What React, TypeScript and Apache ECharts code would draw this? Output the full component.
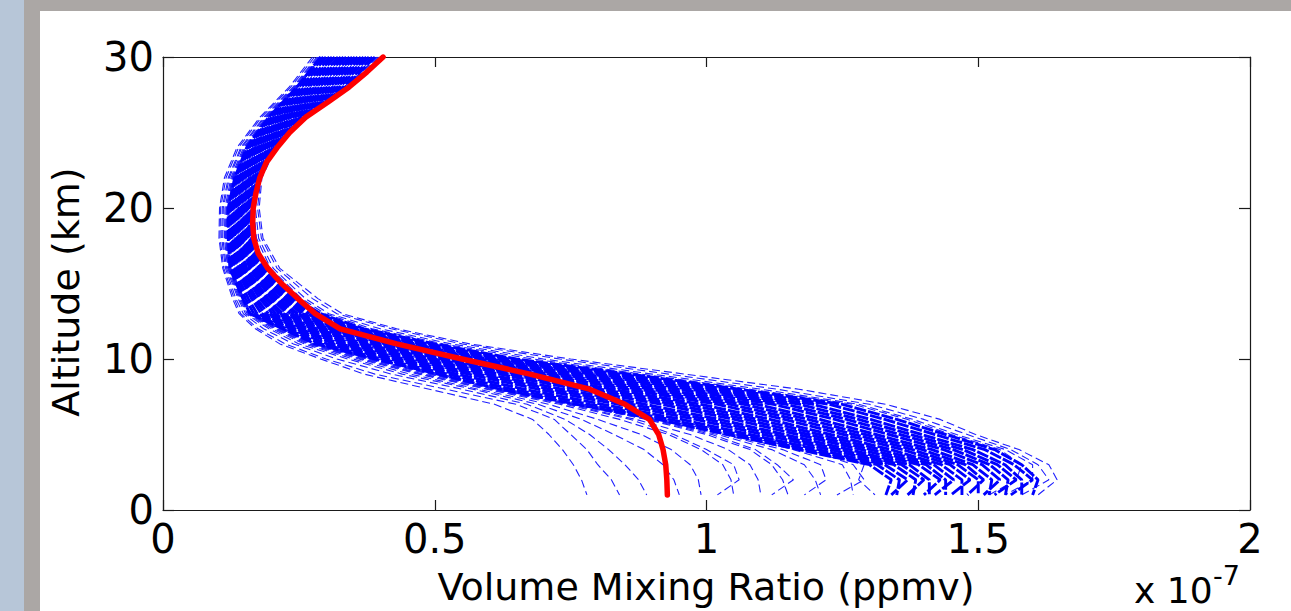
import React, { useEffect, useRef } from "react";
import * as echarts from "echarts";

// Altitude levels (km) shared by the blue profiles
const ALT = [1, 2, 3, 4, 5, 6, 7, 8, 9, 10, 11, 12, 13, 14, 16, 18, 20, 22, 24, 26, 28, 30];

// Dense core of blue profiles: one row per altitude level, one column per profile (x 1e-7 ppmv)
const CORE_ROWS = [
  [1.33, 1.35, 1.34, 1.38, 1.37, 1.41, 1.40, 1.44, 1.42, 1.47, 1.45, 1.50, 1.48, 1.52, 1.51, 1.55, 1.53, 1.58, 1.56, 1.60],
  [1.34, 1.355, 1.37, 1.385, 1.40, 1.41, 1.43, 1.44, 1.455, 1.47, 1.485, 1.50, 1.51, 1.525, 1.54, 1.555, 1.57, 1.58, 1.60, 1.61],
  [1.30, 1.314, 1.328, 1.345, 1.359, 1.373, 1.39, 1.404, 1.418, 1.432, 1.448, 1.462, 1.476, 1.49, 1.507, 1.521, 1.535, 1.549, 1.566, 1.58],
  [1.17, 1.188, 1.206, 1.228, 1.246, 1.264, 1.285, 1.303, 1.321, 1.339, 1.361, 1.379, 1.397, 1.415, 1.436, 1.454, 1.472, 1.49, 1.512, 1.53],
  [1.04, 1.06, 1.08, 1.104, 1.124, 1.144, 1.168, 1.188, 1.208, 1.228, 1.252, 1.272, 1.292, 1.312, 1.336, 1.356, 1.376, 1.396, 1.42, 1.44],
  [0.91, 0.932, 0.954, 0.98, 1.002, 1.024, 1.051, 1.073, 1.095, 1.117, 1.143, 1.165, 1.187, 1.209, 1.236, 1.258, 1.28, 1.302, 1.328, 1.35],
  [0.76, 0.785, 0.809, 0.838, 0.863, 0.887, 0.917, 0.941, 0.966, 0.99, 1.02, 1.044, 1.069, 1.093, 1.123, 1.147, 1.172, 1.196, 1.226, 1.25],
  [0.62, 0.642, 0.664, 0.69, 0.712, 0.734, 0.761, 0.783, 0.805, 0.827, 0.853, 0.875, 0.897, 0.919, 0.946, 0.968, 0.99, 1.012, 1.038, 1.06],
  [0.505, 0.523, 0.541, 0.562, 0.58, 0.597, 0.619, 0.636, 0.654, 0.672, 0.693, 0.711, 0.729, 0.746, 0.768, 0.785, 0.803, 0.821, 0.842, 0.86],
  [0.39, 0.403, 0.416, 0.432, 0.445, 0.458, 0.473, 0.486, 0.499, 0.512, 0.528, 0.541, 0.554, 0.567, 0.582, 0.595, 0.608, 0.621, 0.637, 0.65],
  [0.28, 0.291, 0.302, 0.315, 0.326, 0.337, 0.35, 0.361, 0.372, 0.383, 0.397, 0.408, 0.419, 0.43, 0.443, 0.454, 0.465, 0.476, 0.489, 0.50],
  [0.22, 0.228, 0.235, 0.244, 0.252, 0.259, 0.268, 0.276, 0.283, 0.291, 0.30, 0.307, 0.315, 0.322, 0.331, 0.339, 0.346, 0.354, 0.363, 0.37],
  [0.16, 0.167, 0.173, 0.181, 0.187, 0.194, 0.202, 0.208, 0.215, 0.221, 0.229, 0.235, 0.242, 0.248, 0.256, 0.263, 0.269, 0.276, 0.284, 0.29],
  [0.147, 0.152, 0.157, 0.163, 0.168, 0.172, 0.178, 0.183, 0.188, 0.193, 0.199, 0.204, 0.209, 0.214, 0.22, 0.224, 0.229, 0.234, 0.24, 0.245],
  [0.123, 0.126, 0.13, 0.134, 0.137, 0.14, 0.144, 0.148, 0.151, 0.154, 0.159, 0.162, 0.165, 0.169, 0.173, 0.176, 0.179, 0.183, 0.187, 0.19],
  [0.12, 0.122, 0.125, 0.127, 0.129, 0.132, 0.134, 0.137, 0.139, 0.141, 0.144, 0.146, 0.148, 0.151, 0.153, 0.156, 0.158, 0.16, 0.163, 0.165],
  [0.12, 0.122, 0.124, 0.127, 0.129, 0.131, 0.134, 0.136, 0.138, 0.14, 0.143, 0.145, 0.147, 0.149, 0.152, 0.154, 0.156, 0.158, 0.161, 0.163],
  [0.132, 0.134, 0.136, 0.139, 0.141, 0.143, 0.146, 0.148, 0.15, 0.152, 0.155, 0.157, 0.159, 0.161, 0.164, 0.166, 0.168, 0.17, 0.173, 0.175],
  [0.154, 0.157, 0.159, 0.162, 0.165, 0.167, 0.17, 0.173, 0.175, 0.178, 0.181, 0.184, 0.186, 0.189, 0.192, 0.194, 0.197, 0.199, 0.202, 0.205],
  [0.194, 0.197, 0.2, 0.204, 0.207, 0.21, 0.214, 0.217, 0.22, 0.223, 0.226, 0.229, 0.232, 0.235, 0.239, 0.242, 0.245, 0.248, 0.252, 0.255],
  [0.246, 0.25, 0.255, 0.26, 0.265, 0.269, 0.274, 0.279, 0.283, 0.288, 0.293, 0.298, 0.302, 0.307, 0.312, 0.316, 0.321, 0.325, 0.331, 0.335],
  [0.29, 0.295, 0.30, 0.306, 0.311, 0.316, 0.322, 0.327, 0.332, 0.337, 0.343, 0.348, 0.353, 0.358, 0.364, 0.369, 0.374, 0.379, 0.385, 0.39],
];

// Outlying profiles that leave the band towards lower values near the ground
const FRINGE_LOW = [
  [0.78, 0.77, 0.755, 0.735, 0.71, 0.68, 0.61, 0.49, 0.37, 0.29, 0.215, 0.17, 0.14, 0.128, 0.11, 0.103, 0.104, 0.113, 0.136, 0.178, 0.232, 0.275],
  [0.84, 0.825, 0.80, 0.78, 0.75, 0.72, 0.65, 0.52, 0.39, 0.30, 0.225, 0.175, 0.143, 0.131, 0.112, 0.105, 0.106, 0.116, 0.139, 0.181, 0.235, 0.279],
  [0.89, 0.875, 0.85, 0.82, 0.785, 0.74, 0.67, 0.55, 0.42, 0.32, 0.24, 0.185, 0.148, 0.134, 0.115, 0.108, 0.109, 0.12, 0.143, 0.185, 0.239, 0.283],
  [0.95, 0.94, 0.92, 0.885, 0.83, 0.77, 0.69, 0.57, 0.44, 0.34, 0.25, 0.195, 0.152, 0.138, 0.117, 0.11, 0.111, 0.122, 0.145, 0.187, 0.241, 0.285],
  [0.99, 0.985, 0.97, 0.935, 0.88, 0.80, 0.71, 0.58, 0.455, 0.35, 0.26, 0.20, 0.155, 0.14, 0.119, 0.113, 0.114, 0.125, 0.148, 0.19, 0.243, 0.287],
  [1.05, 1.045, 1.03, 0.99, 0.93, 0.84, 0.73, 0.595, 0.47, 0.36, 0.265, 0.205, 0.157, 0.142, 0.12, 0.115, 0.116, 0.127, 0.15, 0.19, 0.244, 0.288],
  [1.10, 1.095, 1.08, 1.04, 0.97, 0.87, 0.745, 0.605, 0.48, 0.37, 0.27, 0.21, 0.158, 0.144, 0.121, 0.116, 0.117, 0.128, 0.151, 0.191, 0.245, 0.289],
  [1.15, 1.14, 1.12, 1.08, 1.00, 0.89, 0.75, 0.61, 0.49, 0.375, 0.273, 0.213, 0.159, 0.145, 0.122, 0.117, 0.118, 0.129, 0.152, 0.192, 0.245, 0.289],
  [1.21, 1.20, 1.18, 1.12, 1.02, 0.90, 0.755, 0.615, 0.495, 0.38, 0.276, 0.216, 0.16, 0.146, 0.122, 0.118, 0.118, 0.13, 0.152, 0.192, 0.246, 0.29],
  [1.27, 1.265, 1.25, 1.16, 1.035, 0.905, 0.758, 0.618, 0.50, 0.385, 0.278, 0.218, 0.16, 0.147, 0.123, 0.119, 0.119, 0.131, 0.153, 0.193, 0.246, 0.29],
  [1.02, 1.06, 1.05, 1.00, 0.94, 0.86, 0.74, 0.60, 0.475, 0.365, 0.268, 0.208, 0.158, 0.143, 0.121, 0.116, 0.117, 0.128, 0.151, 0.19, 0.244, 0.289],
  [1.12, 1.16, 1.13, 1.09, 1.01, 0.895, 0.752, 0.612, 0.492, 0.378, 0.275, 0.215, 0.16, 0.146, 0.122, 0.118, 0.118, 0.13, 0.152, 0.192, 0.246, 0.29],
  [1.18, 1.22, 1.21, 1.14, 1.03, 0.905, 0.757, 0.617, 0.498, 0.383, 0.277, 0.217, 0.16, 0.147, 0.123, 0.119, 0.119, 0.131, 0.153, 0.193, 0.246, 0.29],
  [1.24, 1.29, 1.27, 1.19, 1.05, 0.915, 0.765, 0.625, 0.505, 0.39, 0.282, 0.22, 0.162, 0.148, 0.124, 0.12, 0.12, 0.132, 0.154, 0.194, 0.247, 0.291],
  [1.31, 1.28, 1.29, 1.22, 1.07, 0.93, 0.775, 0.632, 0.51, 0.395, 0.285, 0.222, 0.163, 0.149, 0.125, 0.121, 0.121, 0.133, 0.155, 0.195, 0.248, 0.292],
];

// Outlying profiles above / to the right of the band
const FRINGE_HIGH = [
  [1.61, 1.645, 1.63, 1.575, 1.495, 1.43, 1.33, 1.17, 0.96, 0.75, 0.565, 0.43, 0.33, 0.285, 0.215, 0.184, 0.177, 0.182, 0.208, 0.258, 0.34, 0.40],
  [1.58, 1.63, 1.61, 1.56, 1.48, 1.40, 1.30, 1.13, 0.93, 0.73, 0.55, 0.42, 0.32, 0.275, 0.21, 0.181, 0.174, 0.18, 0.207, 0.257, 0.338, 0.398],
  [1.55, 1.60, 1.60, 1.55, 1.46, 1.38, 1.28, 1.10, 0.90, 0.70, 0.53, 0.40, 0.305, 0.262, 0.203, 0.176, 0.17, 0.178, 0.206, 0.256, 0.336, 0.395],
  [1.52, 1.57, 1.58, 1.54, 1.45, 1.37, 1.27, 1.08, 0.88, 0.68, 0.515, 0.385, 0.298, 0.255, 0.198, 0.172, 0.167, 0.177, 0.205, 0.256, 0.336, 0.393],
];

// Red reference profile
const RED_ALT = [1, 2, 3, 4, 5, 6, 7, 8, 9, 10, 11, 12, 13, 14, 15, 16, 17, 18, 19, 20, 21, 22, 23, 24, 25, 26, 27, 28, 29, 30];
const RED_VMR = [0.928, 0.927, 0.925, 0.92, 0.912, 0.895, 0.85, 0.785, 0.675, 0.55, 0.43, 0.326, 0.28, 0.248, 0.218, 0.193, 0.175, 0.167, 0.165, 0.166, 0.171, 0.178, 0.19, 0.21, 0.233, 0.262, 0.303, 0.342, 0.375, 0.405];

const X_MIN = 0, X_MAX = 2, X_STEP = 0.5;
const Y_MIN = 0, Y_MAX = 30, Y_STEP = 10;

const X_TITLE = "Volume Mixing Ratio (ppmv)";
const Y_TITLE = "Altitude (km)";

// index of the 13 km level where the dense band changes character
const SPLIT_LEVEL = 12;

export default function App() {
  const ref = useRef<HTMLDivElement>(null);

  useEffect(() => {
    const chart = echarts.init(ref.current as HTMLDivElement, null, { renderer: "svg" });

    const toPath = (vals: number[]) => ALT.map((a, i) => [vals[i], a]).reverse();
    const coreProfiles = CORE_ROWS[0].map((_, j) => CORE_ROWS.map((r) => r[j]));

    const series: any[] = [];
    const base = {
      type: "line",
      showSymbol: false,
      symbol: "none",
      silent: true,
      emphasis: { disabled: true },
      xAxisIndex: 0,
      yAxisIndex: 0,
    };
    FRINGE_LOW.forEach((p) =>
      series.push({ ...base, data: toPath(p), z: 2, lineStyle: { color: "#1f1fff", width: 1.1, type: [8, 4] } })
    );
    FRINGE_HIGH.forEach((p) =>
      series.push({ ...base, data: toPath(p), z: 2, lineStyle: { color: "#1f1fff", width: 1.1, type: [8, 4] } })
    );
    coreProfiles.forEach((p, j) => {
      const path = toPath(p); // from 30 km downwards
      const cut = ALT.length - 1 - SPLIT_LEVEL;
      series.push({
        ...base,
        data: path.slice(0, cut + 1),
        z: 3,
        lineStyle: { color: "#0000ff", width: 2.9, type: [11, 2.5] },
      });
      series.push({
        ...base,
        data: path.slice(cut),
        z: 3,
        lineStyle: { color: "#0000ff", width: 2.9, type: [12, 2], dashOffset: (j * 5.3) % 14 },
      });
    });
    series.push({
      ...base,
      data: RED_ALT.map((a, i) => [RED_VMR[i], a]),
      z: 5,
      lineStyle: { color: "#ff0000", width: 5.5, type: "solid", cap: "round", join: "round" },
    });

    const axisCommon = {
      type: "value",
      splitLine: { show: false },
      axisLine: { show: true, onZero: false, lineStyle: { color: "#1a1a1a", width: 1.2 } },
      axisTick: { show: true, inside: true, length: 10, lineStyle: { color: "#1a1a1a", width: 1.2 } },
    };
    const labelStyle = { fontFamily: "DejaVu Sans", fontSize: 40, color: "#000" };

    chart.setOption({
      animation: false,
      backgroundColor: "#ffffff",
      grid: { left: 163, top: 57, width: 1087, height: 453, containLabel: false },
      xAxis: [
        {
          ...axisCommon,
          position: "bottom",
          min: X_MIN,
          max: X_MAX,
          interval: X_STEP,
          axisLabel: { ...labelStyle, lineHeight: 32, margin: 13, formatter: (v: number) => String(v) },
        },
        {
          ...axisCommon,
          position: "top",
          min: X_MIN,
          max: X_MAX,
          interval: X_STEP,
          axisLabel: { show: false },
        },
      ],
      yAxis: [
        {
          ...axisCommon,
          position: "left",
          min: Y_MIN,
          max: Y_MAX,
          interval: Y_STEP,
          axisTick: { ...axisCommon.axisTick, length: 11 },
          axisLabel: { ...labelStyle, margin: 9, formatter: (v: number) => String(v) },
        },
        {
          ...axisCommon,
          position: "right",
          min: Y_MIN,
          max: Y_MAX,
          interval: Y_STEP,
          axisTick: { ...axisCommon.axisTick, length: 11 },
          axisLabel: { show: false },
        },
      ],
      graphic: [
        { type: "rect", z: -10, shape: { x: 0, y: 0, width: 24, height: 611 }, style: { fill: "#b7c6d8" }, silent: true },
        { type: "rect", z: -10, shape: { x: 24, y: 0, width: 16, height: 611 }, style: { fill: "#aba7a5" }, silent: true },
        { type: "rect", z: -10, shape: { x: 24, y: 0, width: 1267, height: 11 }, style: { fill: "#aba7a5" }, silent: true },
        {
          type: "text",
          z: 50,
          x: 66,
          y: 292,
          rotation: Math.PI / 2,
          style: { text: Y_TITLE, font: "38px 'DejaVu Sans'", fill: "#000", textAlign: "center", textVerticalAlign: "middle" },
        },
        {
          type: "text",
          z: 50,
          x: 706,
          y: 587,
          style: { text: X_TITLE, font: "38px 'DejaVu Sans'", fill: "#000", textAlign: "center", textVerticalAlign: "middle" },
        },
        {
          type: "text",
          z: 50,
          x: 1134,
          y: 590,
          style: { text: "x 10", font: "36px 'DejaVu Sans'", fill: "#000", textAlign: "left", textVerticalAlign: "middle" },
        },
        {
          type: "text",
          z: 50,
          x: 1213,
          y: 575,
          style: { text: "-7", font: "27px 'DejaVu Sans'", fill: "#000", textAlign: "left", textVerticalAlign: "middle" },
        },
      ],
      series,
    });

    return () => chart.dispose();
  }, []);

  return (
    <div
      ref={ref}
      style={{ position: "fixed", left: 0, top: 0, width: 1291, height: 611, background: "#ffffff" }}
    />
  );
}
